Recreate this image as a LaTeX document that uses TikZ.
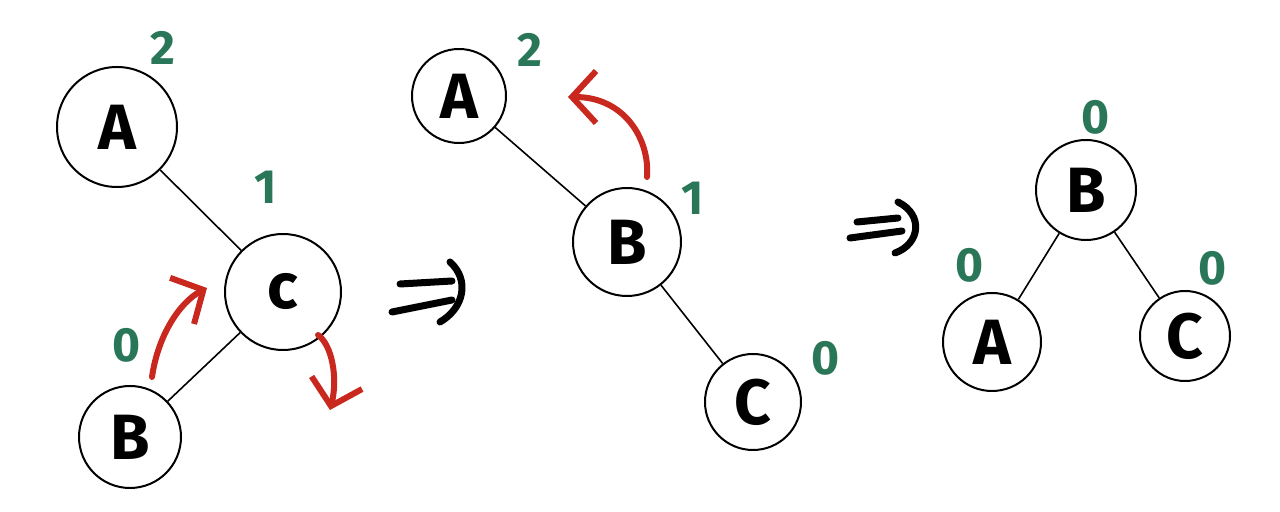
\documentclass[tikz,border=0pt]{standalone}
\usepackage{fontspec}
\setmainfont{Fira Sans}
\usetikzlibrary{arrows.meta}
\definecolor{tgreen}{RGB}{42,118,88}
\definecolor{tred}{RGB}{200,40,30}
\tikzset{
  tnode/.style={circle,draw=black,line width=1pt,fill=white,inner sep=0pt,font=\fontsize{32}{34}\selectfont\bfseries},
  edge/.style={draw=black,line width=0.8pt},
  bal/.style={text=tgreen,font=\fontsize{24}{26}\selectfont\bfseries,inner sep=0pt},
  rot/.style={draw=tred,line width=3pt,line cap=round,-{Straight Barb[length=12pt,width=26pt,line width=3pt]}},
  imp/.style={draw=black,line width=3.5pt,line cap=round}
}
\begin{document}
\begin{tikzpicture}[x=0.5pt,y=-0.5pt]
\useasboundingbox (0,0) rectangle (1280,512);
% tree 1
\node[tnode,minimum size=60pt] (A1) at (117,127) {A};
\node[tnode,minimum size=58pt] (C1) at (283,292) {c};
\node[tnode,minimum size=51pt] (B1) at (130,437) {B};
\draw[edge] (A1) -- (C1);
\draw[edge] (B1) -- (C1);
\node[bal] (nA1) at (163,48) {2};
\node[bal] (nC1) at (266,187) {1};
\node[bal] (nB1) at (127,345) {0};
\coordinate (r1s) at (152,377);
\coordinate (r1e) at (207,288);
\draw[rot] (r1s) .. controls (158,335) and (180,302) .. (r1e);
\coordinate (r2s) at (318,335);
\coordinate (r2e) at (330,410);
\draw[rot] (r2s) .. controls (332,345) and (338,378) .. (r2e);
% implies 1
\coordinate (i1a) at (400,284); \coordinate (i1b) at (452,281);
\coordinate (i1c) at (392,312); \coordinate (i1d) at (452,300);
\coordinate (i1e) at (450,262); \coordinate (i1f) at (440,322);
\draw[imp] (i1a) -- (i1b);
\draw[imp] (i1c) -- (i1d);
\draw[imp] (i1e) .. controls (470,280) and (464,308) .. (i1f);
% tree 2
\node[tnode,minimum size=47pt] (A2) at (459,96) {A};
\node[tnode,minimum size=54pt] (B2) at (627,242) {B};
\node[tnode,minimum size=48pt] (C2) at (753,402) {C};
\draw[edge] (A2) -- (B2);
\draw[edge] (B2) -- (C2);
\node[bal] (nA2) at (530,50) {2};
\node[bal] (nB2) at (693,198) {1};
\node[bal] (nC2) at (826,358) {0};
\coordinate (r3s) at (647,177);
\coordinate (r3e) at (568,97);
\draw[rot] (r3s) .. controls (650,140) and (625,97) .. (r3e);
% implies 2
\coordinate (i2a) at (857,222); \coordinate (i2b) at (898,218);
\coordinate (i2c) at (850,238); \coordinate (i2d) at (902,231);
\coordinate (i2e) at (898,202); \coordinate (i2f) at (895,253);
\draw[imp] (i2a) -- (i2b);
\draw[imp] (i2c) -- (i2d);
\draw[imp] (i2e) .. controls (924,215) and (920,244) .. (i2f);
% tree 3
\node[tnode,minimum size=50pt] (B3) at (1086,190) {B};
\node[tnode,minimum size=49pt] (A3) at (992,342) {A};
\node[tnode,minimum size=45pt] (C3) at (1185,336) {C};
\draw[edge] (B3) -- (A3);
\draw[edge] (B3) -- (C3);
\node[bal] (nB3) at (1096,117) {0};
\node[bal] (nA3) at (970,265) {0};
\node[bal] (nC3) at (1213,268) {0};
\end{tikzpicture}
\end{document}
